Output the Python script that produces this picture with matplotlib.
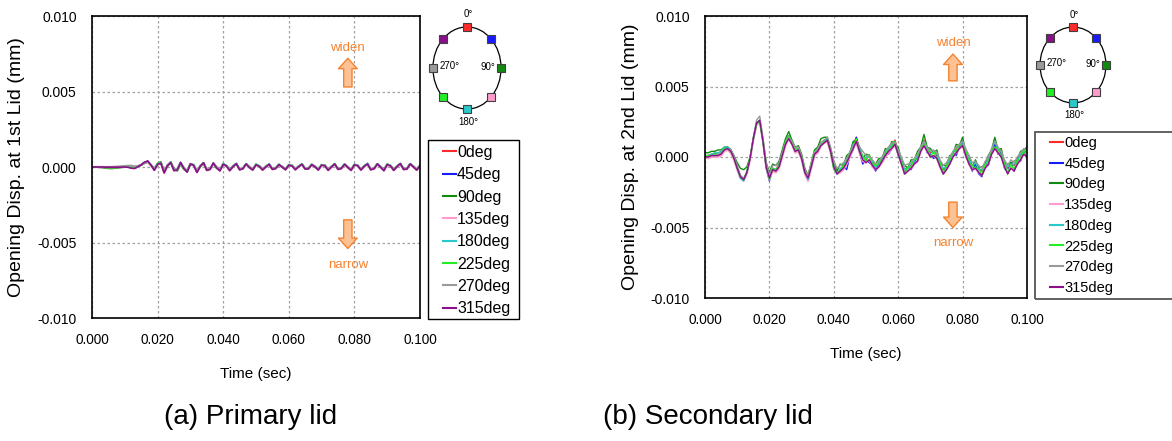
import numpy as np
import matplotlib
matplotlib.use('Agg')
from matplotlib import pyplot as plt
from matplotlib.patches import Ellipse, Rectangle

plt.rcParams['axes.unicode_minus'] = False

FONT = ['Liberation Sans', 'DejaVu Sans']

labels = ['0deg', '45deg', '90deg', '135deg', '180deg', '225deg', '270deg', '315deg']
colors = ['#ff2a2a', '#1a1aff', '#108a10', '#ff9ccc', '#2ac8c8', '#22ee22', '#9a9a9a', '#8a108a']
ring_angles = [0, 45, 90, 135, 180, 225, 270, 315]

# sampled every 1 ms, 0 .. 100 ms
time_ms = np.arange(0, 101)

# primary lid, opening displacement in units of 1e-5 mm
p_0 = [1, 1, 0, 0, 0, -1, -1, -1, 0, 1,
       2, 2, -3, -6, 4, 14, 28, 36, 12, -16,
       18, 26, -34, 10, 30, -20, -18, 28, -8, -28,
       20, 12, -36, 6, 28, -18, -14, 24, -4, -22,
       20, 8, -20, 4, 22, -16, -10, 20, -2, -18,
       16, 6, -18, 2, 18, -14, -8, 16, 0, -16,
       14, 8, -16, 4, 18, -12, -10, 16, 2, -18,
       14, 10, -20, 2, 20, -14, -8, 18, -2, -22,
       16, 10, -18, 6, 20, -16, -10, 20, 0, -22,
       18, 8, -20, 4, 22, -14, -12, 20, 2, -18,
       10]
p_45 = [1, 1, 1, 1, 0, 0, -1, 0, 0, 0,
        3, 4, -1, -5, 5, 15, 30, 37, 11, -18,
        20, 28, -35, 10, 32, -22, -18, 30, -8, -30,
        22, 12, -32, 6, 28, -20, -14, 26, -4, -22,
        20, 8, -22, 4, 22, -16, -10, 20, -2, -18,
        16, 6, -18, 2, 18, -14, -8, 16, 0, -16,
        14, 8, -16, 4, 18, -12, -10, 16, 2, -18,
        14, 10, -20, 2, 20, -14, -8, 18, -2, -20,
        16, 10, -18, 6, 24, -16, -10, 20, 0, -24,
        18, 8, -20, 4, 22, -14, -12, 22, 2, -20,
        10]
p_90 = [2, 0, -2, -4, -7, -9, -10, -8, -6, -3,
        0, 2, 0, -3, 4, 12, 24, 32, 14, -10,
        24, 34, -24, 2, 34, -10, -26, 18, -16, -30,
        14, 16, -26, 0, 24, -22, -10, 22, -8, -20,
        22, 4, -20, 8, 20, -18, -8, 22, -4, -16,
        18, 4, -16, 4, 16, -12, -10, 14, 2, -18,
        12, 10, -14, 2, 20, -10, -12, 14, 4, -16,
        12, 12, -18, 0, 22, -12, -10, 16, 0, -18,
        14, 12, -16, 4, 18, -18, -8, 18, 2, -20,
        16, 10, -22, 2, 20, -16, -10, 18, 4, -20,
        8]
p_135 = [0, 0, 0, 0, -1, -1, -1, -1, 0, 0,
         1, 2, -3, -7, 3, 13, 28, 36, 10, -19,
         19, 27, -36, 9, 31, -23, -19, 29, -9, -31,
         21, 11, -33, 5, 27, -21, -15, 25, -5, -23,
         19, 7, -23, 3, 21, -17, -11, 19, -3, -19,
         15, 5, -19, 1, 17, -15, -9, 15, -1, -17,
         13, 7, -17, 3, 17, -13, -11, 15, 1, -19,
         13, 9, -21, 1, 19, -15, -9, 17, -3, -21,
         15, 9, -19, 5, 19, -17, -11, 19, -1, -23,
         17, 7, -21, 3, 21, -15, -13, 19, 1, -19,
         9]
p_180 = [1, 1, 1, 1, 1, 0, 0, 0, 1, 2,
         4, 6, -4, -8, 4, 14, 30, 38, 12, -16,
         22, 28, -34, 12, 32, -20, -16, 30, -6, -28,
         22, 14, -30, 8, 28, -18, -12, 26, -2, -20,
         22, 10, -20, 6, 24, -14, -8, 22, 0, -16,
         18, 8, -16, 4, 20, -12, -6, 18, 2, -14,
         16, 10, -14, 6, 20, -10, -8, 18, 4, -16,
         16, 12, -18, 4, 22, -12, -6, 20, 0, -18,
         18, 12, -16, 8, 22, -14, -8, 22, 2, -20,
         20, 10, -18, 6, 24, -12, -10, 22, 4, -16,
         12]
p_225 = [1, 0, 0, -1, -2, -3, -4, -3, -2, -1,
         1, 3, -6, -8, 3, 13, 28, 36, 12, -16,
         22, 30, -30, 6, 32, -16, -22, 24, -12, -30,
         18, 14, -28, 4, 26, -20, -12, 24, -6, -20,
         22, 6, -20, 6, 22, -16, -8, 22, -2, -16,
         18, 6, -16, 4, 18, -12, -8, 16, 2, -16,
         14, 10, -14, 4, 20, -10, -10, 16, 4, -16,
         14, 12, -18, 2, 22, -12, -8, 18, 0, -18,
         16, 12, -16, 6, 20, -16, -8, 20, 2, -20,
         18, 10, -20, 4, 22, -14, -10, 20, 4, -18,
         10]
p_270 = [1, 1, 1, 1, 1, 1, 2, 3, 4, 6,
         8, 10, 10, 6, 8, 14, 26, 34, 16, -10,
         14, 24, -26, 14, 28, -14, -10, 26, -2, -22,
         20, 14, -24, 10, 24, -14, -8, 22, 2, -16,
         18, 10, -16, 8, 20, -10, -6, 18, 4, -12,
         14, 8, -12, 6, 16, -8, -4, 14, 4, -10,
         12, 10, -10, 6, 16, -6, -6, 14, 6, -12,
         12, 12, -14, 6, 18, -8, -4, 16, 4, -14,
         14, 12, -12, 8, 18, -10, -6, 18, 4, -16,
         16, 10, -14, 8, 20, -8, -8, 18, 6, -12,
         12]
p_315 = [0, 0, 0, 0, -1, -1, -1, -1, -1, -1,
         0, -2, -8, -10, 2, 14, 32, 40, 12, -22,
         18, 26, -40, 8, 30, -24, -20, 30, -10, -34,
         20, 10, -36, 4, 28, -22, -16, 26, -6, -26,
         18, 6, -24, 2, 22, -18, -12, 20, -4, -20,
         14, 4, -20, 0, 18, -16, -10, 16, -2, -18,
         12, 6, -18, 2, 18, -14, -12, 16, 0, -20,
         12, 8, -22, 0, 20, -16, -10, 18, -4, -22,
         14, 8, -20, 4, 20, -18, -12, 20, -2, -24,
         16, 6, -22, 2, 22, -16, -14, 20, 0, -20,
         8]

# secondary lid, opening displacement in units of 1e-4 mm
s_0 = [1, 1, 2, 2, 2, 3, 6, 7, 5, 0,
       -7, -14, -16, -11, -1, 13, 24, 26, 12, -6,
       -14, -8, -9, -5, 3, 10, 15, 10, 5, 6,
       0, -10, -15, -6, 3, 5, 9, 12, 13, 5,
       -5, -11, -9, -6, -2, 3, 9, 14, 6, 0,
       -2, 1, -4, -8, -5, -1, 3, 5, 8, 12,
       4, -3, -9, -7, -6, -2, 0, 7, 12, 6,
       3, 4, 1, -4, -9, -6, -2, 3, 5, 9,
       11, 3, -2, -7, -5, -9, -10, -5, -2, 5,
       9, 5, 3, -4, -8, -4, -6, -2, 1, 5,
       3]
s_45 = [0, 1, 1, 2, 2, 3, 5, 7, 5, 0,
        -7, -14, -16, -11, -1, 13, 24, 26, 11, -8,
        -17, -9, -10, -6, 2, 10, 15, 10, 4, 5,
        -1, -11, -15, -7, 2, 4, 9, 11, 12, 4,
        -7, -12, -10, -6, -9, 1, 5, 14, 3, -5,
        -2, -4, -6, -10, -5, -3, 3, 2, 6, 11,
        1, -4, -12, -7, -9, -4, 0, 5, 11, 3,
        2, -1, 1, -6, -12, -6, -4, 3, 1, 7,
        11, 0, -4, -10, -5, -12, -14, -5, -6, 3,
        9, 2, 3, -8, -11, -4, -10, -3, -3, 5,
        -1]
s_90 = [3, 3, 4, 4, 5, 5, 7, 7, 5, 1,
        -4, -8, -9, -7, 0, 12, 23, 25, 12, -4,
        -11, -5, -6, -3, 5, 13, 18, 12, 7, 8,
        2, -8, -13, -4, 5, 7, 13, 14, 14, 6,
        -3, -10, -5, -6, 1, 3, 11, 12, 7, -1,
        2, 1, -4, -5, -1, -1, 6, 5, 11, 9,
        7, -2, -6, -8, -2, -2, 4, 7, 16, 7,
        6, 3, 5, -4, -6, -6, 1, 2, 9, 8,
        14, 3, 1, -7, -2, -8, -7, -5, 1, 5,
        14, 5, 6, -4, -5, -4, -3, -2, 4, 5,
        7]
s_135 = [0, -1, 0, 0, 0, 1, 4, 5, 3, -2,
         -9, -15, -17, -12, -2, 12, 23, 25, 11, -7,
         -16, -10, -11, -8, 0, 8, 13, 9, 3, 4,
         -2, -12, -17, -8, 1, 3, 8, 10, 11, 3,
         -8, -12, -11, -9, -5, 0, 6, 10, 3, -3,
         -4, -2, -7, -9, -7, -4, 0, 3, 6, 8,
         2, -5, -12, -10, -8, -5, -3, 4, 8, 4,
         0, 1, -1, -7, -12, -9, -5, 0, 3, 6,
         8, 1, -5, -9, -8, -11, -13, -8, -5, 2,
         6, 3, 0, -7, -11, -7, -9, -5, -2, 2,
         0]
s_180 = [1, 1, 2, 3, 3, 4, 7, 7, 5, 0,
         -8, -15, -17, -11, -1, 13, 24, 26, 12, -6,
         -15, -8, -9, -6, 2, 10, 14, 10, 5, 6,
         0, -10, -16, -6, 3, 5, 10, 12, 13, 5,
         -6, -12, -8, -7, -1, 2, 9, 11, 7, -1,
         0, 0, -3, -8, -3, -2, 4, 5, 9, 9,
         5, -3, -9, -8, -4, -3, 1, 6, 11, 6,
         4, 3, 3, -5, -8, -7, -1, 2, 7, 8,
         11, 3, -1, -7, -4, -9, -9, -6, -1, 5,
         11, 5, 4, -5, -7, -5, -5, -3, 2, 4,
         5]
s_225 = [1, 1, 1, 2, 2, 3, 6, 6, 4, -1,
         -8, -14, -16, -10, 0, 13, 23, 25, 11, -7,
         -16, -8, -9, -6, 3, 11, 15, 11, 6, 5,
         -1, -11, -14, -5, 4, 5, 10, 11, 12, 4,
         -9, -11, -10, -6, -4, 4, 7, 13, 4, 1,
         -3, 2, -5, -6, -5, 0, 2, 7, 7, 11,
         1, -3, -12, -7, -7, -1, -2, 7, 9, 7,
         0, 4, -1, -4, -12, -6, -4, 4, 4, 9,
         8, 5, -4, -6, -8, -8, -13, -5, -4, 5,
         7, 6, 0, -4, -12, -5, -9, -2, -2, 5,
         0]
s_270 = [0, 0, 1, 1, 2, 3, 5, 6, 5, 1,
         -6, -13, -15, -11, -1, 14, 26, 29, 14, -4,
         -13, -6, -6, -4, 3, 10, 14, 11, 7, 7,
         1, -9, -13, -5, 3, 6, 10, 12, 14, 7,
         -3, -8, -6, -4, -1, 3, 8, 11, 7, 4,
         1, 1, -2, -5, -3, 0, 4, 7, 10, 10,
         5, 0, -6, -5, -4, -1, 2, 7, 11, 7,
         4, 5, 3, -2, -6, -4, 0, 4, 7, 9,
         11, 6, 1, -4, -3, -6, -8, -3, 0, 6,
         11, 7, 4, -2, -6, -2, -4, 0, 3, 6,
         4]
s_315 = [0, 0, 1, 1, 1, 2, 5, 6, 4, -1,
         -8, -14, -16, -11, -1, 13, 24, 26, 11, -7,
         -15, -9, -10, -7, 1, 9, 13, 9, 4, 5,
         -1, -11, -15, -7, 2, 4, 8, 10, 12, 4,
         -7, -12, -10, -8, -4, 1, 6, 11, 4, -2,
         -4, -2, -6, -9, -7, -3, 1, 4, 6, 9,
         2, -5, -12, -10, -8, -5, -3, 4, 8, 4,
         0, 1, -1, -7, -12, -9, -5, 0, 3, 6,
         8, 1, -5, -9, -8, -11, -13, -8, -5, 2,
         6, 3, 0, -7, -12, -8, -10, -5, -2, 2,
         0]

primary = [p_0, p_45, p_90, p_135, p_180, p_225, p_270, p_315]
secondary = [s_0, s_45, s_90, s_135, s_180, s_225, s_270, s_315]

xticks = [0.0, 0.02, 0.04, 0.06, 0.08, 0.10]
yticks = [-0.010, -0.005, 0.0, 0.005, 0.010]

ORANGE = '#f5822f'
W, H = 1172, 441

fig = plt.figure(figsize=(W / 100, H / 100), dpi=100)


def px_rect(x0, y0, x1, y1):
    # pixel box (top-left origin) -> figure fraction rect
    return [x0 / W, 1 - y1 / H, (x1 - x0) / W, (y1 - y0) / H]


def panel(rect, series, scale, lw, ylabel, arrow_x, widen_y, up, down, narrow_y):
    ax = fig.add_axes(rect)
    t = time_ms / 1000.0
    for vals, col, lab in zip(series, colors, labels):
        w = lw + 0.5 if lab == '135deg' else lw
        ax.plot(t, np.array(vals) * scale, color=col, lw=w, label=lab)
    ax.set_xlim(0, 0.1)
    ax.set_ylim(-0.010, 0.010)
    ax.set_xticks(xticks)
    ax.set_yticks(yticks)
    ax.set_xticklabels(['%.3f' % v for v in xticks], family=FONT, fontsize=9.8)
    ax.set_yticklabels(['%.3f' % v for v in yticks], family=FONT, fontsize=10)
    ax.tick_params(length=0)
    ax.tick_params(axis='y', pad=11)
    ax.tick_params(axis='x', pad=11)
    ax.grid(True, color='#a0a0a0', ls=(0, (2, 2)), lw=0.9)
    for s in ax.spines.values():
        s.set_color('black')
        s.set_linewidth(1.2)
    ax.set_xlabel('Time (sec)', family=FONT, fontsize=11, labelpad=14)
    ax.set_ylabel(ylabel, family=FONT, fontsize=14)
    ax.text(arrow_x, widen_y, 'widen', color=ORANGE, family=FONT, fontsize=9.5,
            ha='center', va='center')
    ax.text(arrow_x, narrow_y, 'narrow', color=ORANGE, family=FONT, fontsize=9.5,
            ha='center', va='center')
    style = 'simple,head_length=0.75,head_width=1.35,tail_width=0.6'
    for tail, tip in (up, down):
        ax.annotate('', xy=(arrow_x, tip), xytext=(arrow_x, tail),
                    arrowprops=dict(arrowstyle=style, fc='#fcc293', ec=ORANGE,
                                    lw=1.0, shrinkA=0, shrinkB=0, mutation_scale=10))
    return ax


def legend_box(ax, box, anchor, size, spacing, handle, edge, lw):
    x0, y0, x1, y1 = box
    fig.patches.append(Rectangle((x0 / W, 1 - y1 / H), (x1 - x0) / W, (y1 - y0) / H,
                                 transform=fig.transFigure, fill=False,
                                 ec=edge, lw=lw, zorder=-1))
    leg = ax.legend(loc='upper left', bbox_to_anchor=(anchor[0] / W, 1 - anchor[1] / H),
                    bbox_transform=fig.transFigure, borderaxespad=0, borderpad=0,
                    frameon=False, prop={'family': FONT, 'size': size},
                    handlelength=handle, handletextpad=0.08, labelspacing=spacing)
    for ln in leg.get_lines():
        ln.set_linewidth(1.5)


def ring(rect):
    ax = fig.add_axes(rect)
    ax.set_xlim(-1.35, 1.35)
    ax.set_ylim(-1.45, 1.45)
    ax.axis('off')
    ax.add_patch(Ellipse((0, 0), 2, 2, fill=False, ec='black', lw=0.9))
    for ang, col in zip(ring_angles, colors):
        r = np.deg2rad(ang)
        ax.plot(np.sin(r), np.cos(r), 's', ms=6, mfc=col, mec='#404040', mew=0.8)
    kw = dict(family=FONT, fontsize=7, ha='center', va='center')
    ax.text(0.05, 1.32, '0°', **kw)
    ax.text(0.6, 0.02, '90°', **kw)
    ax.text(0.05, -1.32, '180°', **kw)
    ax.text(-0.5, 0.05, '270°', **kw)


ax1 = panel(px_rect(92, 16, 420, 318), primary, 1e-5, 1.2,
            'Opening Disp. at 1st Lid (mm)', 0.078, 0.0079,
            (0.0053, 0.0072), (-0.0035, -0.0054), -0.0065)
ax1.yaxis.set_label_coords(-0.205, 0.5)
legend_box(ax1, (428, 140, 519, 319), (443, 145), 11.5, 0.46, 0.8, 'black', 1.0)
ring(px_rect(421, 8.5, 513, 127.5))

ax2 = panel(px_rect(705, 16, 1027, 298), secondary, 1e-4, 1.0,
            'Opening Disp. at 2nd Lid (mm)', 0.077, 0.0081,
            (0.0054, 0.0073), (-0.0032, -0.0050), -0.0061)
ax2.yaxis.set_label_coords(-0.205, 0.5)
legend_box(ax2, (1035, 132, 1185, 299), (1050, 136), 10.5, 0.46, 0.9, '#555555', 1.3)
ring(px_rect(1028.5, 10, 1117.5, 120))

fig.text(251 / W, 1 - 417 / H, '(a) Primary lid', family=FONT, fontsize=20,
         ha='center', va='center')
fig.text(603 / W, 1 - 417 / H, '(b) Secondary lid', family=FONT, fontsize=20,
         ha='left', va='center')

fig.savefig('out.png', dpi=100)
